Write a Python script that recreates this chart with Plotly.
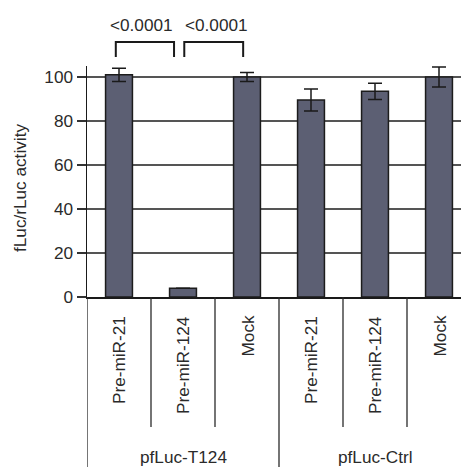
import plotly.graph_objects as go

# ---- data ----
groups = ["pfLuc-T124", "pfLuc-Ctrl"]
labels = ["Pre-miR-21", "Pre-miR-124", "Mock"]
values = [101, 4, 100, 89.5, 93.5, 100]
errors = [3, 0, 2, 5, 3.7, 4.5]
y_ticks = [0, 20, 40, 60, 80, 100]
y_title = "fLuc/rLuc activity"
brackets = [(0, 1, "<0.0001"), (1, 2, "<0.0001")]

cat_labels = [lab for g in groups for lab in labels]
xpos = list(range(len(cat_labels)))

FONT = "Liberation Sans, Arial, sans-serif"
TXT = "#2a2a2a"
FS = 17.2

fig = go.Figure()
fig.add_trace(go.Bar(
    x=xpos, y=values, width=0.42,
    marker=dict(color="#5c5f73", line=dict(color="#1c1c1c", width=1.5)),
    error_y=dict(type="data", array=errors, visible=True,
                 color="#1a1a1a", thickness=1.5, width=7),
    showlegend=False,
))

H_PLOT = 231.0  # plot height px (for paper coords)
BOTTOM = 170.0

def py(px_below):
    return -px_below / H_PLOT

shapes = []
n_per = len(labels)
for i in range(len(cat_labels) + 1):
    xb = i - 0.5
    is_group = (i % n_per == 0)
    y1 = py(BOTTOM) if is_group else py(130)
    shapes.append(dict(type="line", xref="x", yref="paper", x0=xb, x1=xb,
                       y0=0, y1=y1, line=dict(color="#2a2a2a", width=1.3)))

# significance brackets
y_top = (297 - 42) / H_PLOT
y_leg = (297 - 57) / H_PLOT
bracket_x = [(-0.05, 0.86), (1.02, 1.94)]
annotations = []
for (a, b, txt), (x0, x1) in zip(brackets, bracket_x):
    shapes.append(dict(type="path", xref="x", yref="paper",
                       path=f"M {x0},{y_leg} L {x0},{y_top} L {x1},{y_top} L {x1},{y_leg}",
                       line=dict(color="#1a1a1a", width=2)))
    annotations.append(dict(x=(x0 + x1) / 2 - 0.05 + (0.1 if a == 1 else 0), y=(297 - 25) / H_PLOT,
                            xref="x", yref="paper", text=txt, showarrow=False,
                            font=dict(size=FS, color=TXT, family=FONT),
                            xanchor="center", yanchor="middle"))

for x, lab in zip(xpos, cat_labels):
    annotations.append(dict(x=x, y=py(17), xref="x", yref="paper", text=lab,
                            textangle=-90, showarrow=False,
                            font=dict(size=FS, color=TXT, family=FONT),
                            xanchor="center", yanchor="top"))

for gi, g in enumerate(groups):
    cx = gi * n_per + (n_per - 1) / 2
    annotations.append(dict(x=cx, y=py(160), xref="x", yref="paper", text=g,
                            showarrow=False,
                            font=dict(size=FS, color=TXT, family=FONT),
                            xanchor="center", yanchor="middle"))

annotations.append(dict(x=-87 / 374 + 20 / 374, y=(297 - 188) / H_PLOT, xref="paper", yref="paper",
                        text=y_title, textangle=-90, showarrow=False,
                        font=dict(size=FS, color=TXT, family=FONT),
                        xanchor="center", yanchor="middle"))

fig.update_layout(
    width=461, height=467,
    margin=dict(l=87, r=0, t=66, b=170, pad=0, autoexpand=False),
    paper_bgcolor="white", plot_bgcolor="white",
    font=dict(family=FONT, size=FS, color=TXT),
    shapes=shapes, annotations=annotations,
    bargap=0,
)
fig.update_xaxes(range=[-0.5, -0.5 + 374 / 64], showticklabels=False, ticks="",
                 showgrid=False, zeroline=False, automargin=False,
                 showline=True, linecolor="#1a1a1a", linewidth=1.5)
fig.update_yaxes(range=[0, 105], tickvals=y_ticks, ticks="outside", ticklen=9,
                 tickcolor="#333", tickwidth=1.2, automargin=False,
                 showgrid=True, gridcolor="#555", gridwidth=1.2,
                 zeroline=False, showline=True, linecolor="#1a1a1a", linewidth=1.5,
                 tickfont=dict(size=FS, color=TXT, family=FONT))

fig.write_html("out.html",
               config={"displayModeBar": False, "staticPlot": True},
               post_script="document.body.style.margin='0';document.body.style.padding='0';document.body.style.overflow='hidden';")
